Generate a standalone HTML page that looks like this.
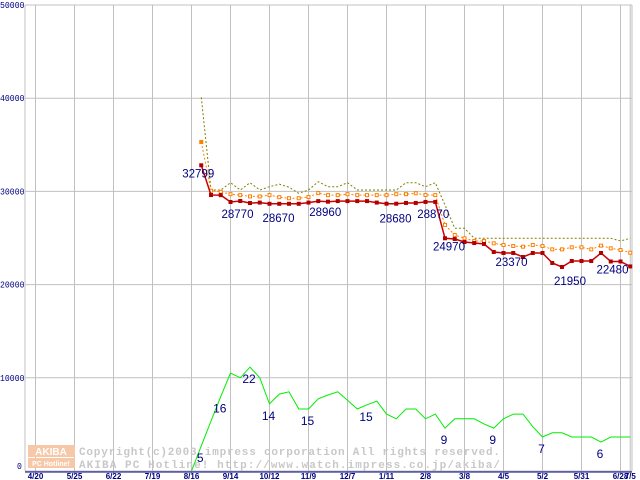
<!DOCTYPE html>
<html><head><meta charset="utf-8">
<style>
html,body{margin:0;padding:0;background:#fff;}
svg{display:block;}
</style></head>
<body>
<svg id="chart" width="640" height="480" xmlns="http://www.w3.org/2000/svg"></svg>
<script>
const xTickLabels=["4/20","5/25","6/22","7/19","8/16","9/14","10/12","11/9","12/7","1/11","2/8","3/8","4/5","5/2","5/31","6/28","7/5"];
const xTickWeeks=[0,4,8,12,16,20,24,28,32,36,40,44,48,52,56,60,61];
const yTicks=[0,10000,20000,30000,40000,50000];
const priceStart=17;
const minPrice=[32800,29610,29600,28860,28970,28750,28800,28670,28670,28670,28670,28800,28960,28900,28960,28960,28960,28960,28800,28680,28680,28760,28760,28870,28870,24970,24890,24570,24460,24360,23500,23390,23390,22960,23390,23390,22320,21890,22530,22530,22530,23390,22480,22480,21950];
const avgPrice=[35300,30070,29960,29700,29600,29460,29460,29600,29380,29270,29270,29400,29820,29600,29600,29700,29600,29600,29600,29600,29700,29700,29800,29610,29600,26400,25320,24970,24680,24680,24430,24250,24140,24070,24250,24140,23780,23780,24000,24000,23780,24180,23890,23710,23420];
const maxPrice=[40100,30150,30150,30930,30150,30930,30150,30500,30770,30450,29800,30150,31040,30500,30500,30930,30150,30150,30150,30150,30150,30930,30930,30500,30930,28540,26040,26040,24970,24970,24970,24970,24970,24970,24970,24970,24970,24970,24970,24970,24970,24970,24970,24680,24970];
const countStart=16;
const shopCount=[0,5.4,10.7,16,21,20,22.3,20,14.4,16.5,17,13.3,13.3,15.5,16.3,17,15.2,13.3,14.2,15,12.2,11.2,13.3,13.3,11.2,12.2,9.2,11.2,11.2,11.2,10.1,9.2,11.2,12.2,12.2,9.5,7.3,8.2,8.2,7.3,7.3,7.3,6.2,7.3,7.3,7.3];
const priceLabels=["32799","28770","28670","28960","28680","28870","24970","23370","21950","22480"];
const priceLabelWeeks=[17,20,24,29,36,41,42,48,54,60];
const priceLabelOffsets=[[-3,12],[7,16],[9,18],[7,15],[9,19],[-2,16],[4,12],[8,13],[8,18],[-8,12]];
const countLabels=["5","16","22","14","15","15","9","9","7","6"];
const countLabelWeeks=[17,19,22,24,28,34,42,47,52,58];

const svg=document.getElementById('chart');
const NS='http://www.w3.org/2000/svg';
function X(w){return 35.5+w*9.75;}
function Y(v){return 471-v*0.00932;}
function YC(c){return 471-c*4.66;}
function mk(tag,attrs){const e=document.createElementNS(NS,tag);for(const k in attrs)e.setAttribute(k,attrs[k]);svg.appendChild(e);return e;}

yTicks.forEach(v=>{
  const l=mk('line',{x1:25,x2:632,y1:Y(v),y2:Y(v),stroke:'#c0c0c0','stroke-width':1});
  
  
  const s=String(v);
  const attrs={x:v===0?17:0,y:v===0?Y(v)-2:Y(v)+3,'font-family':'Liberation Mono, monospace','font-size':9,fill:'#000080',textLength:s.length*4.9,lengthAdjust:'spacingAndGlyphs'};
  const t=mk('text',attrs);
  t.textContent=s;
  
  
});
const ax=mk('line',{x1:25,x2:25,y1:5,y2:471,stroke:'#c0c0c0','stroke-width':1});


const rx=mk('line',{x1:632,x2:632,y1:5,y2:471,stroke:'#c0c0c0','stroke-width':1});


xTickWeeks.forEach((w,i)=>{
  const l=mk('line',{x1:X(w),x2:X(w),y1:5,y2:474,stroke:'#c0c0c0','stroke-width':1});
  
  
  const t=mk('text',{x:X(w),y:479,'text-anchor':'middle','font-family':'Liberation Sans, sans-serif','font-size':8,'font-weight':'bold',fill:'#000080'});
  t.textContent=xTickLabels[i];
  
  
});
const xl=mk('line',{x1:25,x2:632,y1:472,y2:472,stroke:'#000080','stroke-width':1});



const logo=mk('rect',{x:28,y:445,width:47,height:12,fill:'#f6c8a8'});


const logo2=mk('rect',{x:28,y:458,width:47,height:10,fill:'#f6c8a8'});


const lt=mk('text',{x:51,y:455,'text-anchor':'middle','font-family':'Liberation Sans, sans-serif','font-size':10,'font-weight':'bold',fill:'#fff'});
lt.textContent='AKIBA';


const lt2=mk('text',{x:51,y:466,'text-anchor':'middle','font-family':'Liberation Sans, sans-serif','font-size':7,'font-weight':'bold',fill:'#fff'});
lt2.textContent='PC Hotline!';


const w1=mk('text',{x:79,y:455,'font-family':'Liberation Mono, monospace','font-size':11,'font-weight':'bold',fill:'#c8c8c8',textLength:421});
w1.textContent='Copyright(c)2003 impress corporation All rights reserved.';


const w2=mk('text',{x:79,y:468,'font-family':'Liberation Mono, monospace','font-size':11,'font-weight':'bold',fill:'#c8c8c8',textLength:421});
w2.textContent='AKIBA PC Hotline!  http://www.watch.impress.co.jp/akiba/';



function series(arr,start,yf){return arr.map((v,i)=>X(start+i).toFixed(1)+','+yf(v).toFixed(1)).join(' ');}
const cl=mk('polyline',{points:series(shopCount,countStart,YC),fill:'none',stroke:'#00ee00','stroke-width':1});


const mxl=mk('polyline',{points:series(maxPrice,priceStart,Y),fill:'none',stroke:'#808000','stroke-width':1,'stroke-dasharray':'2,2'});


const avl=mk('polyline',{points:series(avgPrice,priceStart,Y),fill:'none',stroke:'#ff8000','stroke-width':1,'stroke-dasharray':'2,2'});


avgPrice.forEach((v,i)=>{
  const r=mk('rect',{x:X(priceStart+i)-1.5,y:Y(v)-1.5,width:3,height:3,fill:i===0?'#ff8000':'#fff',stroke:'#ff8000','stroke-width':1});
  
  
});
const mnl=mk('polyline',{points:series(minPrice,priceStart,Y),fill:'none',stroke:'#cc0000','stroke-width':1.5});


minPrice.forEach((v,i)=>{
  const r=mk('rect',{x:X(priceStart+i)-2,y:Y(v)-2,width:4,height:4,fill:'#b00000'});
  
  
});
priceLabels.forEach((s,i)=>{
  const w=priceLabelWeeks[i],v=minPrice[w-priceStart],o=priceLabelOffsets[i];
  const t=mk('text',{x:X(w)+o[0],y:Y(v)+o[1],'text-anchor':'middle','font-family':'Liberation Sans, sans-serif','font-size':11.5,fill:'#000080'});
  t.textContent=s;
  
  
});
countLabels.forEach((s,i)=>{
  const w=countLabelWeeks[i],c=shopCount[w-countStart];
  const t=mk('text',{x:X(w)-1,y:YC(c)+16,'text-anchor':'middle','font-family':'Liberation Sans, sans-serif','font-size':12,fill:'#000080'});
  t.textContent=s;
  
  
});
</script>
</body></html>
